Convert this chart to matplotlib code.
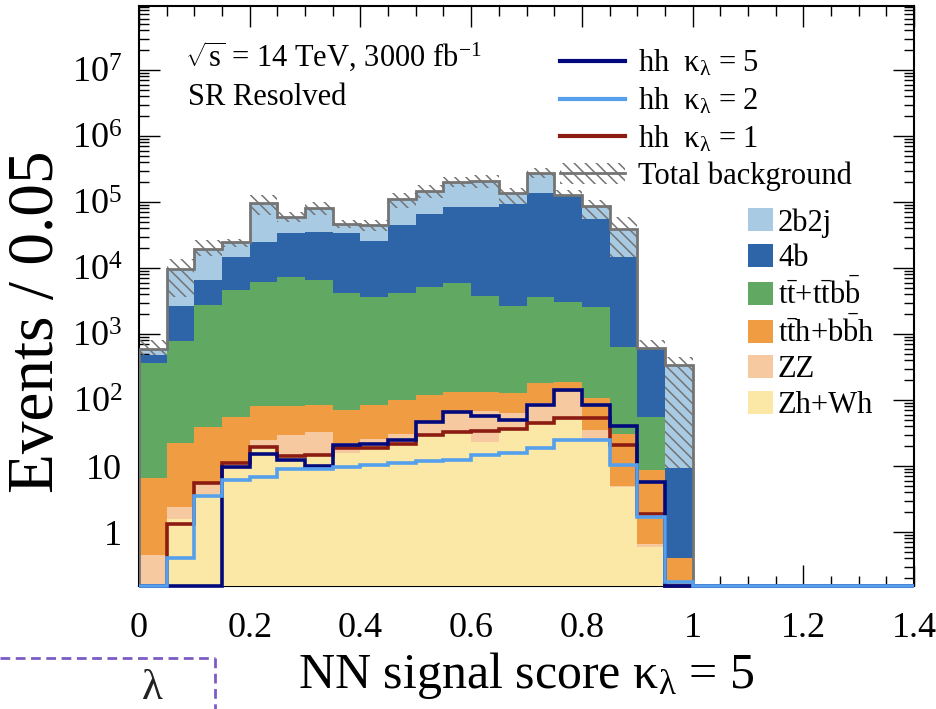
import numpy as np
import matplotlib
matplotlib.use("Agg")
import matplotlib.pyplot as plt
from matplotlib.lines import Line2D
from matplotlib.patches import Patch
from matplotlib.ticker import FixedLocator, LogLocator, MultipleLocator, FuncFormatter, NullFormatter

plt.rcParams['font.family'] = ['Liberation Serif', 'DejaVu Serif']
plt.rcParams['mathtext.fontset'] = 'custom'
plt.rcParams['mathtext.rm'] = 'Liberation Serif'
plt.rcParams['mathtext.it'] = 'Liberation Serif:italic'
plt.rcParams['mathtext.bf'] = 'Liberation Serif:bold'
plt.rcParams['hatch.linewidth'] = 1.1

# NN score bins, width 0.05, 0 -> 1
edges = np.round(np.arange(0, 1.0001, 0.05), 2)

# background components (events per bin), stacked bottom -> top
zh_wh = [0.05, 1.6, 3.8, 9.1, 19, 14, 14, 16, 19, 22, 30, 33, 23, 35, 45, 50, 25, 4.8, 0.6, 0]
zz = [0.4, 0.8, 1.7, 2.0, 6, 15.5, 19, 6, 7, 9, 18, 30, 45, 28, 44, 83, 10, 0.15, 0.05, 0]
tth_bbh = [6.2, 20, 33, 45, 56, 51, 51, 48, 58, 69, 71, 70, 65, 63, 89, 56, 71, 26, 8, 0.4]
ttbar = [356, 772, 2710, 4590, 6120, 7260, 6500, 4170, 3590, 4050, 5080, 5740, 3670, 2520, 3490, 2910, 2490, 609, 47, 0]
fourb = [117, 1860, 3830, 10050, 18800, 27000, 28700, 29300, 22200, 40900, 60800, 79100, 81200, 90400, 134300, 119900, 52400, 14200, 564, 8.8]
twob2j = [110, 6900, 12800, 9800, 70700, 25700, 46300, 12900, 19100, 65000, 83000, 119000, 125000, 42000, 139000, 4000, 32000, 24200, 0, 330]

# total background uncertainty band edges
band_hi = [812, 13700, 26500, 28000, 127000, 71000, 100000, 53000, 53000, 138000,
           182000, 242000, 257000, 163000, 325000, 150000, 108000, 60000, 810, 456]
band_lo = [480, 3640, 15100, 21000, 63000, 49000, 63000, 40000, 37000, 81000,
           115000, 166000, 163000, 80000, 229000, 104000, 50000, 12000, 430, 5]

# signals
hh_k5 = [0, 0, 0, 9.8, 15.4, 12.4, 10, 20.8, 21.5, 25, 47, 66, 57, 50, 84, 143, 84, 40, 5.8, 0]
hh_k2 = [0, 0.41, 3.5, 6.1, 6.9, 9.1, 8.9, 9.8, 10.4, 11, 12, 12.3, 14.5, 15.8, 18.5, 24.8, 24.4, 10.2, 1.7, 0.177]
hh_k1 = [0, 1.32, 5.5, 11.2, 19.4, 14, 14.7, 18.5, 19, 21.5, 29, 32.5, 33.5, 36, 45, 53, 53, 20.5, 1.9, 0]

bkg_names = ['Zh+Wh', 'ZZ', r'$\mathrm{t\bar{t}h{+}b\bar{b}h}$', r'$\mathrm{t\bar{t}{+}t\bar{t}b\bar{b}}$', '4b', '2b2j']
bkg_colors = ['#fce8a6', '#f6c9a0', '#f09c42', '#61a963', '#2d65a8', '#a8cae3']
sig_names = [r'hh  $\mathrm{\kappa_{\lambda}}$ = 5', r'hh  $\mathrm{\kappa_{\lambda}}$ = 2', r'hh  $\mathrm{\kappa_{\lambda}}$ = 1']
sig_colors = ['#02097c', '#55a0ec', '#8c1b12']
grey = '#747474'

ymin, ymax = 10 ** -0.818, 10 ** 7.97

fig = plt.figure(figsize=(9.36, 7.09), dpi=100)
ax = fig.add_axes([139 / 936, 1 - 586 / 709, 775 / 936, 580 / 709])
ax.set_yscale('log')

comps = [zh_wh, zz, tth_bbh, ttbar, fourb, twob2j]
cum = np.cumsum(np.array(comps, dtype=float), axis=0)
total = cum[-1]

# ROOT style: each cumulative histogram filled from zero, top one first
zo = {5: 1, 4: 3, 3: 4, 2: 5, 1: 6, 0: 7}
for i in range(5, -1, -1):
    ax.stairs(cum[i], edges, baseline=0, fill=True, color=bkg_colors[i], lw=0, zorder=zo[i])

ax.stairs(band_hi, edges, baseline=band_lo, fill=True, facecolor='none', edgecolor=grey,
          hatch='\\\\\\', lw=0, zorder=2)
ax.stairs(total, edges, baseline=0, color=grey, lw=2.0, zorder=8)

# signals, extended with empty bins up to 1.4
edges_long = np.round(np.arange(0, 1.4001, 0.05), 2)
for vals, col, z in [(hh_k1, sig_colors[2], 10), (hh_k5, sig_colors[0], 11), (hh_k2, sig_colors[1], 12)]:
    v = np.concatenate([np.array(vals, dtype=float), np.zeros(len(edges_long) - len(edges))])
    v = np.where(v > ymin, v, ymin)
    ax.stairs(v, edges_long, baseline=None, color=col, lw=2.6, zorder=z, clip_on=False)

ax.set_xlim(0, 1.4)
ax.set_ylim(ymin, ymax)

ax.xaxis.set_major_locator(MultipleLocator(0.2))
ax.xaxis.set_minor_locator(MultipleLocator(0.05))
ax.xaxis.set_major_formatter(FuncFormatter(lambda x, p: '%g' % round(x, 2)))


def ylab(v, p):
    k = int(round(np.log10(v)))
    if k == 0:
        return '1'
    if k == 1:
        return '10'
    return r'$\mathrm{10^{%d}}$' % k


ax.yaxis.set_major_locator(FixedLocator([10.0 ** k for k in range(0, 8)]))
ax.yaxis.set_major_formatter(FuncFormatter(ylab))
ax.yaxis.set_minor_locator(LogLocator(base=10, subs=np.arange(2, 10), numticks=100))
ax.yaxis.set_minor_formatter(NullFormatter())

ax.tick_params(which='both', direction='in', top=True, right=True, width=1.0, labelsize=26)
ax.tick_params(which='major', length=15)
ax.tick_params(which='minor', length=7.5)
ax.tick_params(axis='x', pad=19)
ax.tick_params(axis='y', pad=12)
for s in ax.spines.values():
    s.set_linewidth(1.5)

fig.text(37 / 936, 1 - 322 / 709, 'Events / 0.05', rotation=90, ha='center', va='center', fontsize=47)
fig.text(526 / 936, 1 - 688 / 709, r'NN signal score $\mathrm{\kappa_{\lambda}}$ = 5', ha='center',
         va='baseline', fontsize=36)

ax.text(185 / 936, 1 - 67 / 709, r'$\sqrt{\mathrm{s}}$ = 14 TeV, 3000 fb$^{-1}$', transform=fig.transFigure,
        fontsize=22, va='baseline', ha='left')
ax.text(188 / 936, 1 - 105 / 709, 'SR Resolved', transform=fig.transFigure,
        fontsize=22, va='baseline', ha='left')

h1 = [Line2D([], [], color=c, lw=3) for c in sig_colors]
h1.append((Patch(facecolor='none', edgecolor=grey, hatch='\\\\\\', lw=0), Line2D([], [], color=grey, lw=2)))
leg1 = ax.legend(h1, sig_names + ['Total background'], loc='upper left',
                 bbox_to_anchor=(560 / 936, 1 - 48 / 709), bbox_transform=fig.transFigure,
                 frameon=False, fontsize=22, handlelength=2.13, handletextpad=0.43,
                 labelspacing=0.24, borderpad=0, borderaxespad=0)
ax.add_artist(leg1)

h2 = [Patch(facecolor=c, edgecolor='none') for c in bkg_colors[::-1]]
leg2 = ax.legend(h2, bkg_names[::-1], loc='upper left',
                 bbox_to_anchor=(748 / 936, 1 - 208 / 709), bbox_transform=fig.transFigure,
                 frameon=False, fontsize=22, handlelength=0.82, handleheight=0.79,
                 handletextpad=0.16, labelspacing=0.2, borderpad=0, borderaxespad=0)

# dashed box remnant at bottom left
purple = '#7b5cc4'
fig.add_artist(Line2D([0, 215 / 936], [1 - 658 / 709] * 2, transform=fig.transFigure,
                      color=purple, lw=2, ls=(0, (3.5, 2))))
fig.add_artist(Line2D([215 / 936] * 2, [1 - 658 / 709, 0], transform=fig.transFigure,
                      color=purple, lw=2, ls=(0, (3.5, 2))))
fig.text(152 / 936, 1 - 689 / 709, 'λ', ha='center', va='center', fontsize=31, color='#222222')

fig.savefig('out.png', dpi=100)
